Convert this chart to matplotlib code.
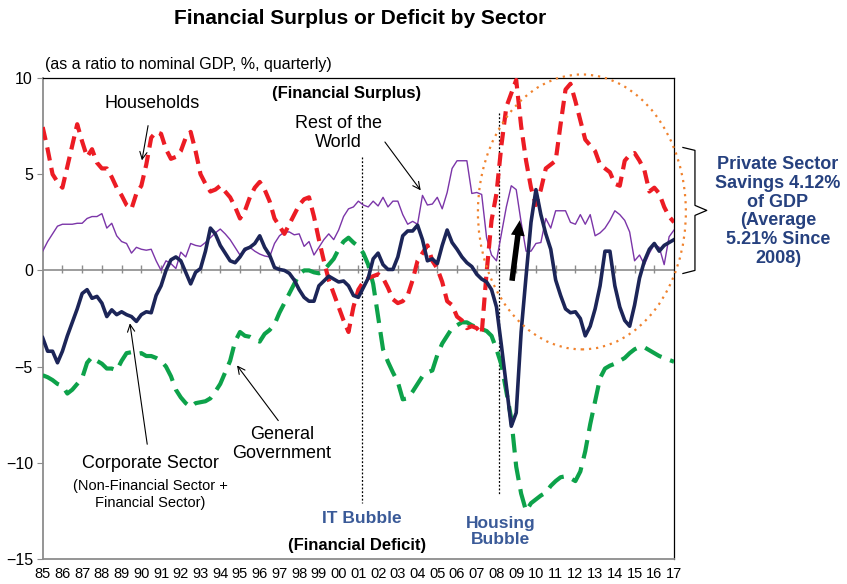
import numpy as np
import matplotlib
matplotlib.use("Agg")
import matplotlib.pyplot as plt
from matplotlib.patches import Ellipse

plt.rcParams['font.family'] = ['Liberation Sans', 'DejaVu Sans']

# quarterly data, 1985Q1 .. 2017Q1 (% of nominal GDP)
households = [
    7.45, 6.3, 5.0, 4.6,
    4.3, 5.4, 6.5, 7.6,
    6.7, 5.9, 6.3, 5.6,
    5.3, 5.3, 4.85, 4.3,
    3.9, 3.4, 3.2, 4.0,
    4.4, 5.5, 6.9, 7.2,
    7.1, 6.3, 5.8, 5.9,
    6.2, 6.9, 7.2, 6.2,
    5.0, 4.5, 4.1, 4.2,
    4.4, 4.1, 3.8, 3.3,
    2.7, 3.1, 3.8, 4.3,
    4.6, 4.2, 3.6, 2.7,
    2.3, 1.9, 2.4, 2.9,
    3.4, 3.7, 3.8, 2.8,
    1.6, 0.5, -0.5, -1.2,
    -1.9, -2.6, -3.2, -1.9,
    -1.0, -0.6, -0.4, -0.3,
    -0.2, -0.4, -0.9, -1.5,
    -1.7, -1.6, -1.3, -0.5,
    0.5, 0.9, 1.3, 0.5,
    0.1, -0.6, -1.6, -1.8,
    -2.4, -2.6, -3.0, -2.9,
    -3.0, -3.3, -0.1, 2.6,
    4.0, 6.5, 8.5, 9.2,
    9.9, 7.5, 5.7, 4.3,
    3.4, 4.2, 5.3, 5.5,
    5.7, 7.6, 9.4, 9.7,
    8.8, 7.8, 6.8, 6.5,
    6.2, 5.5, 5.3, 5.1,
    4.5, 4.4, 5.7, 6.0,
    6.1, 5.7, 5.2, 4.1,
    4.3, 4.0, 3.3, 2.8,
    2.5]

rest_of_world = [
    1.0, 1.5, 1.9, 2.3,
    2.4, 2.4, 2.4, 2.45,
    2.45, 2.7, 2.8, 2.8,
    2.95, 2.2, 2.45, 1.8,
    1.5, 1.4, 0.9, 1.2,
    1.1, 1.05, 1.1, 0.5,
    0.0, 0.5, 0.35, 0.1,
    0.95, 0.7, 1.4, 1.3,
    1.25, 1.45, 1.7, 1.95,
    2.15, 1.9, 1.6, 1.2,
    0.8, 1.0, 1.2, 1.0,
    0.85, 0.75, 0.7, 1.4,
    1.8, 2.0, 2.0, 1.85,
    1.9, 1.25, 1.5, 0.8,
    1.2, 1.6, 1.9, 1.6,
    2.1, 2.8, 3.2, 3.3,
    3.6, 3.4, 3.3, 3.6,
    3.35, 3.8, 3.3, 3.6,
    3.6, 2.9, 2.4, 2.55,
    2.4, 3.9, 3.4, 3.45,
    3.8, 3.2, 4.05, 5.3,
    5.7, 5.7, 5.7, 4.0,
    4.05, 3.95, 1.7, 0.8,
    0.5, 1.9, 3.3, 4.4,
    4.2, 2.5, 1.0, 1.0,
    1.4, 1.45, 2.7, 2.2,
    3.1, 3.1, 3.1, 2.5,
    2.4, 2.9, 2.4, 2.9,
    1.8, 1.95, 2.2, 2.6,
    3.1, 2.9, 2.6, 2.0,
    0.5, 0.8, 0.3, 0.9,
    1.35, 1.2, 0.3, 1.75,
    2.1]

corporate = [
    -3.5, -4.2, -4.2, -4.8,
    -4.2, -3.4, -2.7, -2.0,
    -1.2, -1.0, -1.45, -1.35,
    -1.7, -2.4, -2.05, -2.3,
    -2.15, -2.3, -2.4, -2.65,
    -2.3, -2.15, -2.2, -1.3,
    -0.8, 0.0, 0.55, 0.7,
    0.5, -0.1, -0.7, -0.1,
    0.1, 1.0, 2.2, 1.9,
    1.3, 0.9, 0.5, 0.4,
    0.7, 1.1, 1.2, 1.4,
    1.8, 1.2, 0.8, 0.15,
    0.05, 0.0, -0.15, -0.5,
    -1.0, -1.4, -1.6, -1.6,
    -0.8, -0.55, -0.3, -0.45,
    -0.6, -0.55, -0.8, -1.3,
    -1.4, -0.9, -0.4, 0.6,
    0.9, 0.3, 0.05, 0.05,
    0.7, 1.8, 2.05, 2.05,
    2.35, 1.6, 0.5, 0.6,
    0.35, 1.3, 2.1, 1.45,
    1.1, 0.7, 0.4, 0.2,
    -0.2, -0.45, -0.6, -1.0,
    -1.9, -3.9, -6.0, -8.1,
    -7.4, -3.2, -0.3, 2.5,
    4.2, 2.9, 1.9, 1.1,
    -0.5, -1.3, -2.0, -2.2,
    -2.15, -2.5, -3.4, -2.9,
    -2.0, -0.8, 1.0, 1.0,
    -0.8, -1.9, -2.6, -2.9,
    -1.8, -0.4, 0.5, 1.1,
    1.4, 1.0, 1.3, 1.45,
    1.6]

government = [
    -5.45, -5.55, -5.7, -5.9,
    -6.0, -6.4, -6.2, -5.9,
    -5.6, -4.8, -4.5, -4.7,
    -4.85, -5.1, -5.1, -5.2,
    -4.7, -4.3, -4.25, -4.35,
    -4.3, -4.45, -4.45, -4.55,
    -4.7, -5.0, -5.5, -6.2,
    -6.6, -6.9, -7.1, -6.9,
    -6.85, -6.8, -6.65, -6.3,
    -5.9, -5.3, -4.7, -3.7,
    -3.2, -3.4, -3.45, -3.6,
    -3.7, -3.3, -3.1, -2.8,
    -2.2, -1.7, -1.2, -0.7,
    -0.2, 0.0, 0.0, -0.1,
    -0.15, 0.0, 0.3, 0.6,
    1.1, 1.5, 1.7, 1.45,
    1.25, 0.9, 0.3, -0.7,
    -2.4, -4.1, -4.75, -5.3,
    -5.8, -6.7, -6.65, -6.3,
    -5.9, -5.5, -5.3, -5.2,
    -4.4, -3.8, -3.4, -3.0,
    -2.85, -2.7, -2.7, -2.85,
    -2.95, -3.05, -3.15, -3.4,
    -4.1, -4.9, -6.3, -7.7,
    -10.2, -11.6, -12.5, -12.1,
    -11.9, -11.7, -11.55, -11.2,
    -10.95, -10.75, -10.7, -10.8,
    -10.95, -10.45, -9.4, -8.0,
    -6.8, -5.6, -5.1, -4.95,
    -4.85, -4.7, -4.55, -4.3,
    -4.1, -3.98, -4.0, -4.15,
    -4.3, -4.45, -4.55, -4.65,
    -4.75]

year_labels = ['85', '86', '87', '88', '89', '90', '91', '92', '93', '94', '95',
               '96', '97', '98', '99', '00', '01', '02', '03', '04', '05', '06',
               '07', '08', '09', '10', '11', '12', '13', '14', '15', '16', '17']
y_ticks = [10, 5, 0, -5, -10, -15]

t = 1985 + np.arange(len(households)) / 4.0

fig = plt.figure(figsize=(8.47, 5.84), dpi=100)
ax = fig.add_axes([0.0504, 0.0428, 0.7454, 0.8236])

ax.set_xlim(1985, 2017)
ax.set_ylim(-15, 10)

# zero line with year ticks
ax.axhline(0, color='#8c8c8c', lw=1.2, zorder=1)
years = np.arange(1986, 2017)
ax.plot(years, np.zeros(len(years)) + 0.08, ls='none', marker='|', ms=6,
        mew=1.0, color='#8c8c8c', zorder=1)

ax.plot(t, rest_of_world, color='#7B35A8', lw=1.0, zorder=3)
ax.plot(t, government, color='#0DA24A', lw=3.0, dashes=(4.5, 2.2), zorder=4)
ax.plot(t, households, color='#EC1C24', lw=3.0, dashes=(3.2, 1.8), zorder=5)
ax.plot(t, corporate, color='#1C2558', lw=2.6, zorder=6)

# bubble markers
ax.plot([2001.17, 2001.17], [5.87, -12.1], color='black', lw=0.9, ls=(0, (1.5, 1.5)), zorder=2)
ax.plot([2008.14, 2008.14], [8.16, -11.6], color='black', lw=0.9, ls=(0, (1.5, 1.5)), zorder=2)

# private sector ellipse
ell = Ellipse((2012.33, 3.04), 10.54, 14.29, fill=False, ec='#F0822D', lw=1.6,
              ls=(0, (1, 2.2)), clip_on=False, zorder=7)
ax.add_patch(ell)

# black arrow
ax.annotate('', xy=(2009.2, 2.75), xytext=(2008.77, -0.68),
            arrowprops=dict(arrowstyle='simple,head_width=0.5,head_length=0.55,tail_width=0.2',
                            mutation_scale=20, color='black', lw=0), zorder=8)

# bracket
ax.plot([2017.45, 2018.06, 2018.06, 2018.66, 2018.06, 2018.06, 2017.45],
        [6.39, 6.24, 3.38, 3.12, 2.86, 0.0, -0.16],
        color='black', lw=0.9, clip_on=False)

# axes styling
for s in ['top', 'right']:
    ax.spines[s].set_color('black')
    ax.spines[s].set_linewidth(0.9)
for s in ['left', 'bottom']:
    ax.spines[s].set_color('#8c8c8c')
    ax.spines[s].set_linewidth(1.3)

ax.set_yticks(y_ticks)
ax.set_yticklabels(['10', '5', '0', '\u22125', '\u221210', '\u221215'], fontsize=11.5)
ax.tick_params(axis='y', direction='out', length=4, color='#8c8c8c', pad=3)
ax.set_xticks(np.arange(1985, 2018))
ax.set_xticklabels(year_labels, fontsize=10.5)
ax.tick_params(axis='x', length=0, pad=6)

# texts
fig.text(0.425, 0.968, 'Financial Surplus or Deficit by Sector', ha='center', va='center',
         fontsize=15, fontweight='bold')
fig.text(0.053, 0.890, '(as a ratio to nominal GDP, %, quarterly)', ha='left', va='center',
         fontsize=11.5)
ax.text(2000.42, 9.2, '(Financial Surplus)', ha='center', va='center', fontsize=12,
        fontweight='bold')
ax.text(2000.93, -14.3, '(Financial Deficit)', ha='center', va='center', fontsize=12,
        fontweight='bold')

ax.annotate('Households', xy=(1990.03, 5.72), xytext=(1990.54, 8.68), ha='center', va='center',
            fontsize=13, arrowprops=dict(arrowstyle='->', lw=0.8, color='black',
                                         shrinkA=8, shrinkB=0))
ax.annotate('Rest of the\nWorld', xy=(2004.16, 4.16), xytext=(2000.0, 7.15), ha='center',
            va='center', fontsize=13, linespacing=1.15,
            arrowprops=dict(arrowstyle='->', lw=0.8, color='black', shrinkA=0, shrinkB=0,
                            relpos=(1.0, 0.35)))
ax.annotate('Corporate Sector', xy=(1989.42, -2.75), xytext=(1990.44, -10.05), ha='center',
            va='center', fontsize=13,
            arrowprops=dict(arrowstyle='->', lw=0.8, color='black', shrinkA=6, shrinkB=0))
ax.text(1990.44, -11.65, '(Non-Financial Sector +\nFinancial Sector)', ha='center', va='center',
        fontsize=10.5, linespacing=1.25)
ax.annotate('General\nGovernment', xy=(1994.85, -4.94), xytext=(1997.13, -9.0), ha='center',
            va='center', fontsize=13, linespacing=1.15,
            arrowprops=dict(arrowstyle='->', lw=0.8, color='black', shrinkA=2, shrinkB=0,
                            relpos=(0.5, 1.0)))

ax.text(2001.18, -12.9, 'IT Bubble', ha='center', va='center', fontsize=12.5,
        fontweight='bold', color='#3A5A98')
ax.text(2008.2, -13.55, 'Housing\nBubble', ha='center', va='center', fontsize=12.5,
        fontweight='bold', color='#3A5A98', linespacing=1.1)

fig.text(0.9185, 0.6378, 'Private Sector\nSavings 4.12%\nof GDP\n(Average\n5.21% Since\n2008)',
         ha='center', va='center', fontsize=13, fontweight='bold', color='#26417F',
         linespacing=1.15)

fig.savefig('out.png', dpi=100)
